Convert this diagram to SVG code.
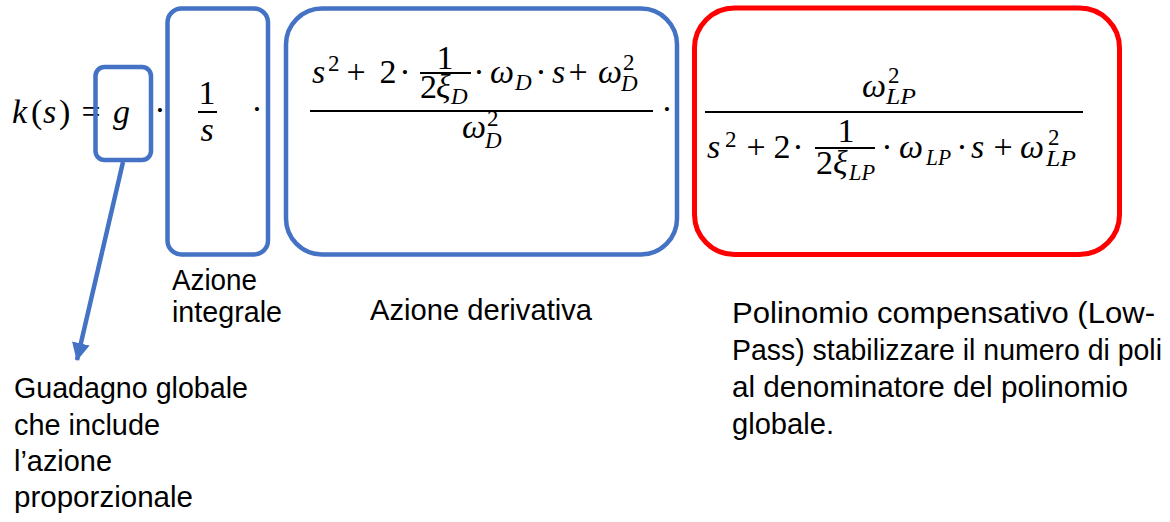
<svg xmlns="http://www.w3.org/2000/svg" width="1170" height="522" viewBox="0 0 1170 522">
<style>
.m{font-family:"Liberation Serif",serif;font-size:34px;font-style:italic;fill:#000}
.r{font-style:normal}
.c{text-anchor:middle}
.s{font-size:23px}
.bar{stroke:#000;stroke-width:2}
.blue{fill:none;stroke:#4472C4;stroke-width:4.5}
.red{fill:none;stroke:#FF0000;stroke-width:5}
.lbl{font-family:"Liberation Sans",Arial,sans-serif;font-size:29px;fill:#000}
</style>
<defs>
<marker id="ah" markerUnits="userSpaceOnUse" markerWidth="20" markerHeight="20" viewBox="0 0 20 20" refX="17" refY="10" orient="auto">
<path d="M0,1 L18,10 L0,19 Z" fill="#4472C4"/>
</marker>
</defs>
<g id="formula-head">
<text class="m" x="12" y="123">k</text>
<text class="m r" x="31" y="123">(</text>
<text class="m" x="43" y="123">s</text>
<text class="m r" x="59" y="123">)</text>
<text class="m r c" x="91" y="123">=</text>
<text class="m" x="113" y="123">g</text>
<text class="m r c" x="160" y="121">·</text>
<text class="m r c" x="257" y="120">·</text>
<text class="m r c" x="667" y="120">·</text>
</g>
<g id="node-gain">
<rect class="blue" x="95.5" y="67" width="55.5" height="93" rx="9"/>
</g>
<g id="node-integral">
<rect class="blue" x="167.5" y="8.5" width="100.5" height="246" rx="14"/>
<text class="m r c" x="207" y="104">1</text>
<line class="bar" x1="198" y1="112" x2="217" y2="112"/>
<text class="m c" x="207" y="141">s</text>
</g>
<g id="node-derivative">
<rect class="blue" x="286" y="8.5" width="391" height="246" rx="36"/>
<text class="m" x="312" y="83">s</text>
<text class="m r s" x="328" y="71">2</text>
<text class="m r c" x="356" y="83">+</text>
<text class="m r c" x="388" y="83">2</text>
<text class="m r c" x="405" y="83">·</text>
<text class="m r c" x="445" y="69">1</text>
<line class="bar" x1="420" y1="73" x2="471" y2="73"/>
<text class="m r" x="420" y="98">2</text>
<text class="m" x="436" y="98">ξ</text>
<text class="m s" x="451" y="104">D</text>
<text class="m r c" x="479" y="83">·</text>
<text class="m" x="490" y="83">ω</text>
<text class="m s" x="515" y="90">D</text>
<text class="m r c" x="541" y="83">·</text>
<text class="m" x="552" y="83">s</text>
<text class="m r c" x="578" y="83">+</text>
<text class="m" x="598" y="83">ω</text>
<text class="m r s" x="623" y="70">2</text>
<text class="m s" x="621" y="91">D</text>
<line class="bar" x1="310" y1="111" x2="653" y2="111"/>
<text class="m" x="462" y="138">ω</text>
<text class="m r s" x="487" y="126">2</text>
<text class="m s" x="485" y="148">D</text>
</g>
<g id="node-lowpass">
<rect class="red" x="694.5" y="8" width="425" height="246.5" rx="40"/>
<text class="m" x="862" y="97">ω</text>
<text class="m r s" x="888" y="83">2</text>
<text class="m s" x="886" y="104" textLength="30" lengthAdjust="spacingAndGlyphs">LP</text>
<line class="bar" x1="705" y1="112" x2="1083" y2="112"/>
<text class="m" x="707" y="158">s</text>
<text class="m r s" x="725" y="147">2</text>
<text class="m r c" x="756" y="158">+</text>
<text class="m r c" x="782" y="158">2</text>
<text class="m r c" x="798" y="158">·</text>
<text class="m r c" x="846" y="142">1</text>
<line class="bar" x1="815" y1="148" x2="875" y2="148"/>
<text class="m r" x="816" y="174">2</text>
<text class="m" x="833" y="174">ξ</text>
<text class="m s" x="849" y="180" textLength="26" lengthAdjust="spacingAndGlyphs">LP</text>
<text class="m r c" x="887" y="158">·</text>
<text class="m" x="899" y="158">ω</text>
<text class="m s" x="926" y="165" textLength="25" lengthAdjust="spacingAndGlyphs">LP</text>
<text class="m r c" x="962" y="158">·</text>
<text class="m" x="971" y="158">s</text>
<text class="m r c" x="1003" y="158">+</text>
<text class="m" x="1020" y="158">ω</text>
<text class="m r s" x="1048" y="145">2</text>
<text class="m s" x="1046" y="166" textLength="30" lengthAdjust="spacingAndGlyphs">LP</text>
</g>
<g id="connectors">
<line x1="123" y1="162" x2="77" y2="360" stroke="#4472C4" stroke-width="4.5" marker-end="url(#ah)"/>
</g>
<g id="label-gain">
<text class="lbl" x="14" y="398" textLength="234" lengthAdjust="spacingAndGlyphs">Guadagno globale</text>
<text class="lbl" x="14" y="435" textLength="146" lengthAdjust="spacingAndGlyphs">che include</text>
<text class="lbl" x="14" y="471" textLength="98" lengthAdjust="spacingAndGlyphs">l’azione</text>
<text class="lbl" x="14" y="507" textLength="179" lengthAdjust="spacingAndGlyphs">proporzionale</text>
</g>
<g id="label-integral">
<text class="lbl" x="172" y="290" textLength="85" lengthAdjust="spacingAndGlyphs">Azione</text>
<text class="lbl" x="172" y="322" textLength="110" lengthAdjust="spacingAndGlyphs">integrale</text>
</g>
<g id="label-derivative">
<text class="lbl" x="370" y="320" textLength="222" lengthAdjust="spacingAndGlyphs">Azione derivativa</text>
</g>
<g id="label-lowpass">
<text class="lbl" x="732" y="323" textLength="423" lengthAdjust="spacingAndGlyphs">Polinomio compensativo (Low-</text>
<text class="lbl" x="732" y="360" textLength="430" lengthAdjust="spacingAndGlyphs">Pass) stabilizzare il numero di poli</text>
<text class="lbl" x="732" y="397" textLength="396" lengthAdjust="spacingAndGlyphs">al denominatore del polinomio</text>
<text class="lbl" x="732" y="434" textLength="102" lengthAdjust="spacingAndGlyphs">globale.</text>
</g>
</svg>
